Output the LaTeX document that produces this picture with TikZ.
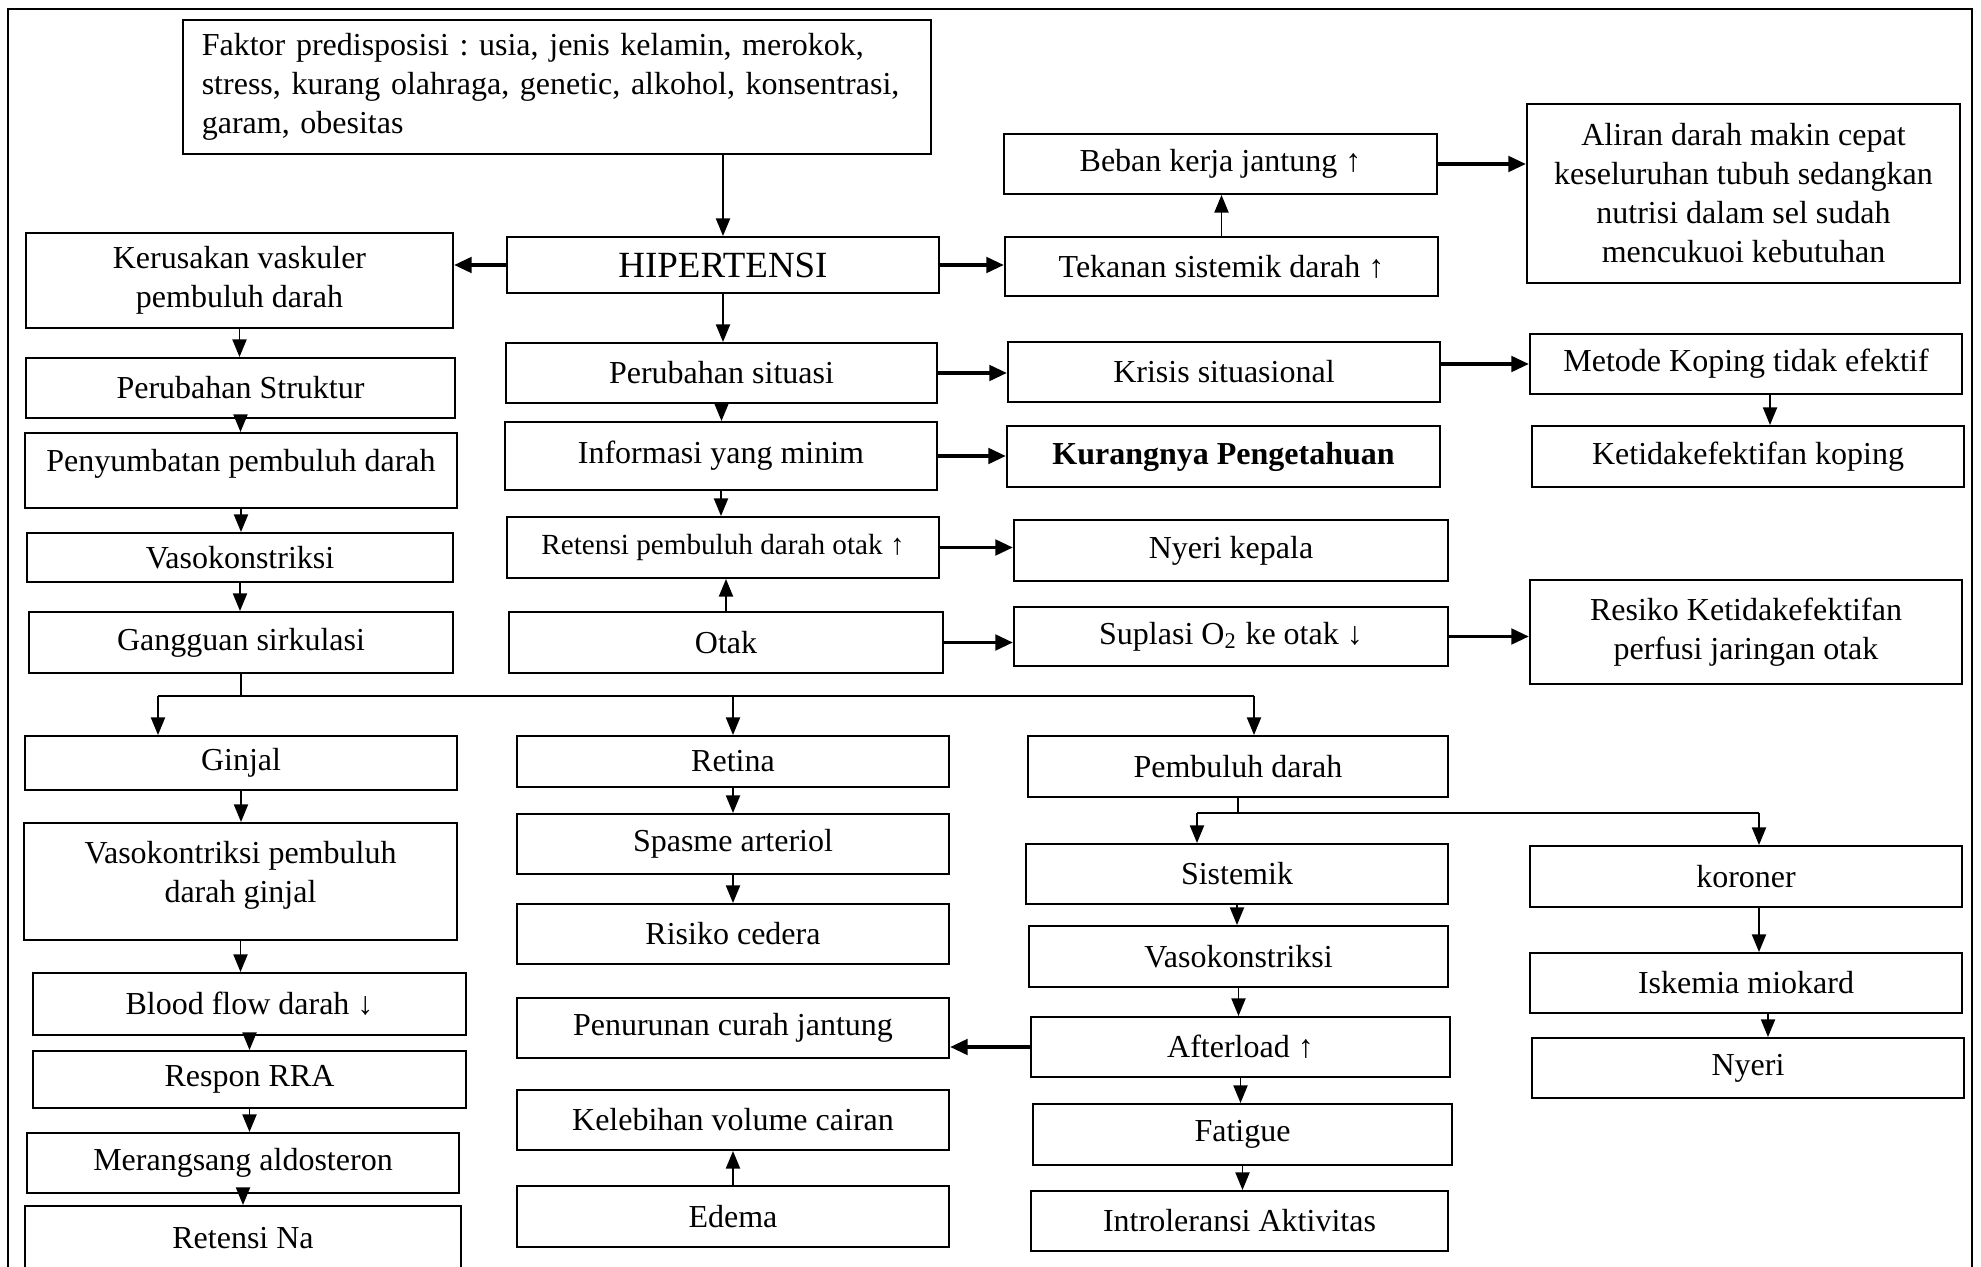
\documentclass[tikz,border=0pt]{standalone}
\usepackage{fontspec}
\setmainfont{Liberation Serif}
\usetikzlibrary{arrows.meta, calc}
\frenchspacing
\newcommand{\bodyfont}{\fontsize{9.1pt}{11.1pt}\selectfont}

\begin{document}
\begin{tikzpicture}[x=0.01cm, y=-0.01cm,
    bx/.style={draw, line width=0.55pt, inner sep=0pt, align=center, font=\bodyfont},
    varr/.style={line width=0.5pt, -{Triangle[length=5pt, width=4pt]}},
    harr/.style={line width=1pt, -{Triangle[length=5pt, width=4.4pt]}}]
    \useasboundingbox (0,0) rectangle (1981,1267);
    \clip (0,0) rectangle (1981,1267);
    \draw[line width=0.6pt] (8,1300) -- (8,9) -- (1972,9) -- (1972,1300);

    \node[bx, minimum width=7.48cm, minimum height=1.34cm, text width=7.1cm, align=left] (faktor) at (557,87)
        {Faktor predisposisi : usia, jenis kelamin, merokok,\\stress, kurang olahraga, genetic, alkohol, konsentrasi,\\garam, obesitas};
    \node[bx, minimum width=4.32cm, minimum height=0.56cm, font=\fontsize{10.5pt}{12pt}\selectfont] (hip) at (723,265) {HIPERTENSI};

    \node[bx, minimum width=4.27cm, minimum height=0.95cm] (kerus) at (239.5,280.5) {Kerusakan vaskuler\\pembuluh darah};
    \node[bx, minimum width=4.29cm, minimum height=0.60cm] (struk) at (240.5,388) {Perubahan Struktur};
    \node[bx, minimum width=4.32cm, minimum height=0.75cm, text depth=0.2cm] (sumbat) at (241,470.5) {Penyumbatan pembuluh darah};
    \node[bx, minimum width=4.26cm, minimum height=0.49cm] (vasoA) at (240,557.5) {Vasokonstriksi};
    \node[bx, minimum width=4.24cm, minimum height=0.61cm] (gang) at (241,642.5) {Gangguan sirkulasi};

    \node[bx, minimum width=4.31cm, minimum height=0.60cm] (perub) at (721.5,373) {Perubahan situasi};
    \node[bx, minimum width=4.32cm, minimum height=0.68cm] (info) at (721,456) {Informasi yang minim};
    \node[bx, minimum width=4.32cm, minimum height=0.61cm, font=\fontsize{8.3pt}{10pt}\selectfont] (reten) at (723,547.5) {Retensi pembuluh darah otak ↑};
    \node[bx, minimum width=4.34cm, minimum height=0.61cm] (otak) at (726,642.5) {Otak};

    \node[bx, minimum width=4.33cm, minimum height=0.60cm] (beban) at (1220.5,164) {Beban kerja jantung ↑};
    \node[bx, minimum width=4.33cm, minimum height=0.59cm] (tekan) at (1221.5,266.5) {Tekanan sistemik darah ↑};
    \node[bx, minimum width=4.32cm, minimum height=0.60cm] (krisis) at (1224,372) {Krisis situasional};
    \node[bx, minimum width=4.33cm, minimum height=0.61cm] (kurang) at (1223.5,456.5) {\textbf{Kurangnya Pengetahuan}};
    \node[bx, minimum width=4.34cm, minimum height=0.61cm] (nyerik) at (1231,550.5) {Nyeri kepala};
    \node[bx, minimum width=4.34cm, minimum height=0.59cm] (suplasi) at (1231,636.5) {Suplasi O\textsubscript{2} ke otak ↓};

    \node[bx, minimum width=4.33cm, minimum height=1.79cm] (aliran) at (1743.5,193.5)
        {Aliran darah makin cepat\\keseluruhan tubuh sedangkan\\nutrisi dalam sel sudah\\mencukuoi kebutuhan};
    \node[bx, minimum width=4.32cm, minimum height=0.60cm] (metode) at (1746,364) {Metode Koping tidak efektif};
    \node[bx, minimum width=4.32cm, minimum height=0.61cm] (ketidak) at (1748,456.5) {Ketidakefektifan koping};
    \node[bx, minimum width=4.32cm, minimum height=1.04cm] (resiko) at (1746,632) {Resiko Ketidakefektifan\\perfusi jaringan otak};

    \node[bx, minimum width=4.32cm, minimum height=0.54cm] (ginjal) at (241,763) {Ginjal};
    \node[bx, minimum width=4.33cm, minimum height=1.17cm, text depth=0.2cm] (vasogin) at (240.5,881.5) {Vasokontriksi pembuluh\\darah ginjal};
    \node[bx, minimum width=4.33cm, minimum height=0.62cm] (blood) at (249.5,1004) {Blood flow darah ↓};
    \node[bx, minimum width=4.33cm, minimum height=0.57cm] (respon) at (249.5,1079.5) {Respon RRA};
    \node[bx, minimum width=4.32cm, minimum height=0.60cm] (merang) at (243,1163) {Merangsang aldosteron};
    \node[bx, minimum width=4.36cm, minimum height=0.64cm] (retna) at (243,1238) {Retensi Na};

    \node[bx, minimum width=4.32cm, minimum height=0.51cm] (retina) at (733,761.5) {Retina};
    \node[bx, minimum width=4.32cm, minimum height=0.60cm] (spasme) at (733,844) {Spasme arteriol};
    \node[bx, minimum width=4.32cm, minimum height=0.60cm] (risiko) at (733,934) {Risiko cedera};
    \node[bx, minimum width=4.32cm, minimum height=0.60cm] (penur) at (733,1028) {Penurunan curah jantung};
    \node[bx, minimum width=4.32cm, minimum height=0.60cm] (lebih) at (733,1120) {Kelebihan volume cairan};
    \node[bx, minimum width=4.32cm, minimum height=0.61cm] (edema) at (733,1216.5) {Edema};

    \node[bx, minimum width=4.20cm, minimum height=0.61cm] (pembd) at (1238,766.5) {Pembuluh darah};
    \node[bx, minimum width=4.22cm, minimum height=0.60cm] (sistem) at (1237,874) {Sistemik};
    \node[bx, minimum width=4.19cm, minimum height=0.61cm] (vasoB) at (1238.5,956.5) {Vasokonstriksi};
    \node[bx, minimum width=4.19cm, minimum height=0.60cm] (after) at (1240.5,1047) {Afterload ↑};
    \node[bx, minimum width=4.19cm, minimum height=0.61cm] (fatig) at (1242.5,1134.5) {Fatigue};
    \node[bx, minimum width=4.17cm, minimum height=0.60cm] (intro) at (1239.5,1221) {Introleransi Aktivitas};

    \node[bx, minimum width=4.32cm, minimum height=0.61cm] (koron) at (1746,876.5) {koroner};
    \node[bx, minimum width=4.32cm, minimum height=0.60cm] (iskem) at (1746,983) {Iskemia miokard};
    \node[bx, minimum width=4.32cm, minimum height=0.60cm] (nyeri) at (1748,1068) {Nyeri};

    \coordinate (jL) at (158,696);
    \coordinate (jR) at (1254,696);
    \coordinate (kL) at (1197,813);
    \coordinate (kR) at (1759,813);

    \draw[varr] (faktor.south -| hip.north) -- (hip.north);
    \draw[harr] (hip.west) -- (hip.west -| kerus.east);
    \draw[harr] (hip.east) -- (hip.east -| tekan.west);
    \draw[varr] (hip.south) -- (hip.south |- perub.north);
    \draw[varr] (tekan.north) -- (tekan.north |- beban.south);
    \draw[harr] (beban.east) -- (beban.east -| aliran.west);
    \draw[harr] (perub.east) -- (perub.east -| krisis.west);
    \draw[harr] (krisis.east |- metode) -- (metode.west);
    \draw[varr] ([xshift=0.24cm]metode.south) -- ([xshift=0.24cm]metode.south |- ketidak.north);
    \draw[varr] (perub.south) -- (perub.south |- info.north);
    \draw[harr] (info.east) -- (info.east -| kurang.west);
    \draw[varr] (info.south) -- (info.south |- reten.north);
    \draw[harr] (reten.east) -- (reten.east -| nyerik.west);
    \draw[varr] (otak.north) -- (otak.north |- reten.south);
    \draw[harr] (otak.east) -- (otak.east -| suplasi.west);
    \draw[harr] (suplasi.east) -- (suplasi.east -| resiko.west);

    \draw[varr] (kerus.south) -- (kerus.south |- struk.north);
    \draw[varr] (struk.south) -- (struk.south |- sumbat.north);
    \draw[varr] (sumbat.south) -- (sumbat.south |- vasoA.north);
    \draw[varr] (vasoA.south) -- (vasoA.south |- gang.north);
    \draw[line width=0.5pt] (gang.south) -- (gang.south |- jL);
    \draw[line width=0.6pt] (jL) -- (jR);
    \draw[varr] (jL) -- (jL |- ginjal.north);
    \draw[varr] (retina.north |- jL) -- (retina.north);
    \draw[varr] (jR) -- (jR |- pembd.north);

    \draw[varr] (ginjal.south) -- (ginjal.south |- vasogin.north);
    \draw[varr] (vasogin.south) -- (vasogin.south |- blood.north);
    \draw[varr] (blood.south) -- (blood.south |- respon.north);
    \draw[varr] (respon.south) -- (respon.south |- merang.north);
    \draw[varr] (merang.south) -- (merang.south |- retna.north);

    \draw[varr] (retina.south) -- (retina.south |- spasme.north);
    \draw[varr] (spasme.south) -- (spasme.south |- risiko.north);
    \draw[varr] (edema.north) -- (edema.north |- lebih.south);

    \draw[line width=0.5pt] (pembd.south) -- (pembd.south |- kL);
    \draw[line width=0.6pt] (kL) -- (kR);
    \draw[varr] (kL) -- (kL |- sistem.north);
    \draw[varr] (kR) -- (kR |- koron.north);
    \draw[varr] (sistem.south) -- (sistem.south |- vasoB.north);
    \draw[varr] (vasoB.south) -- (vasoB.south |- after.north);
    \draw[harr] (after.west) -- (after.west -| penur.east);
    \draw[varr] (after.south) -- (after.south |- fatig.north);
    \draw[varr] (fatig.south) -- (fatig.south |- intro.north);
    \draw[varr] (kR |- koron.south) -- (kR |- iskem.north);
    \draw[varr] ([xshift=0.22cm]iskem.south) -- ([xshift=0.22cm]iskem.south |- nyeri.north);
\end{tikzpicture}
\end{document}
